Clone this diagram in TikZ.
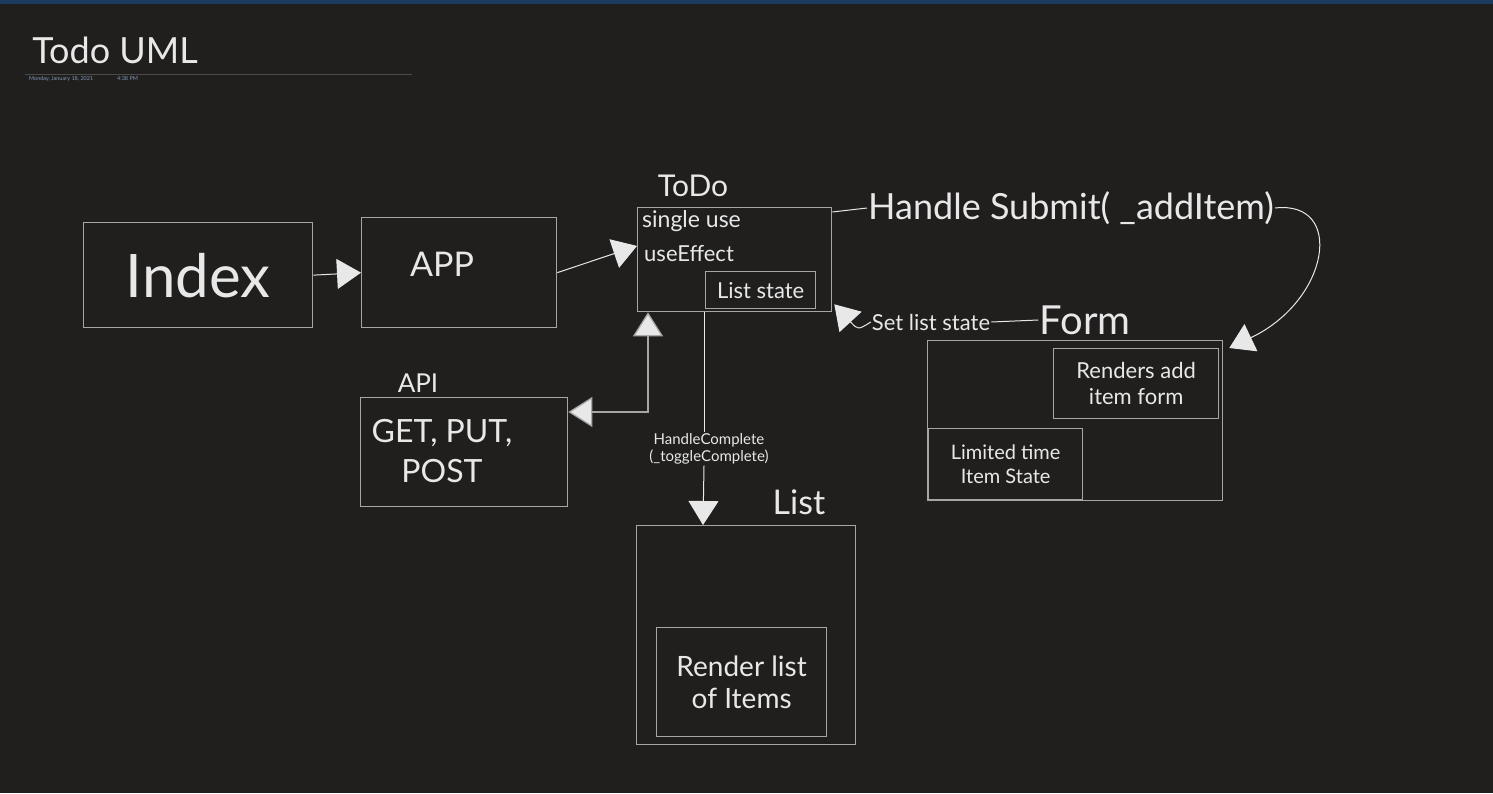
\documentclass[tikz,border=0pt]{standalone}
\usepackage{fontspec}
\setmainfont{Lato}
\usetikzlibrary{arrows.meta}
\definecolor{bg}{HTML}{201F1E}
\definecolor{bar}{HTML}{1B3C5E}
\definecolor{boxc}{HTML}{A6A6A6}
\definecolor{ink}{HTML}{E8E8E8}
\definecolor{datec}{HTML}{8298B8}
\begin{document}
\begin{tikzpicture}[x=1pt,y=-1pt]
%\draw[help lines] (0,0) grid (1493,793);
\tikzstyle{v}=[rectangle,draw=boxc,line width=1.3pt,anchor=north west,inner sep=0pt,text=ink]
\tikzstyle{t}=[text=ink,inner sep=1pt]
\tikzstyle{a}=[draw=ink,line width=1pt,-{Triangle[length=24pt,width=30pt]}]

\fill[bg] (0,0) rectangle (1493,793);
\useasboundingbox (0,0) rectangle (1493,793);
\fill[bar] (0,0) rectangle (1493,4);

\node[t,font=\fontsize{36}{40}\selectfont] (title) at (115,50) {Todo UML};
\draw[gray!45!bg,line width=0.6pt] (25,74) -- (412,74);
\node[anchor=west,text=datec,font=\fontsize{5.5}{6}\selectfont,inner sep=0pt] (day) at (29,79) {Monday, January 18, 2021};
\node[anchor=west,text=datec,font=\fontsize{5.5}{6}\selectfont,inner sep=0pt] (time) at (117,79) {4:38 PM};

\node[v,minimum width=229pt,minimum height=105pt,font=\fontsize{60}{64}\selectfont] (index) at (83,222) {Index};
\node[v,minimum width=195pt,minimum height=110pt] (app) at (361,217) {};
\node[t,font=\fontsize{34}{38}\selectfont] (applbl) at (442,264) {APP};

\node[v,minimum width=194pt,minimum height=104pt] (todo) at (637,207) {};
\node[t,font=\fontsize{30}{34}\selectfont] (todolbl) at (693,186) {ToDo};
\node[t,anchor=west,font=\fontsize{23}{26}\selectfont] (single) at (641,221) {single use};
\node[t,anchor=west,font=\fontsize{22}{26}\selectfont] (effect) at (643,254) {useEffect};
\node[v,minimum width=110pt,minimum height=37pt,font=\fontsize{22}{26}\selectfont] (lstate) at (705,271) {List state};

\node[v,minimum width=207pt,minimum height=109pt] (api) at (360,397) {};
\node[t,font=\fontsize{26}{30}\selectfont] (apilbl) at (418,383) {API};
\node[t,align=center,font=\fontsize{32}{40}\selectfont] (verbs) at (442,451) {GET, PUT,\\POST};

\node[v,minimum width=219pt,minimum height=219pt] (list) at (636,525) {};
\node[t,font=\fontsize{34}{38}\selectfont] (listlbl) at (799,502) {List};
\node[v,minimum width=170pt,minimum height=109pt,align=center,font=\fontsize{28}{32}\selectfont] (render) at (656,627) {Render list\\of Items};

\node[v,minimum width=295pt,minimum height=160pt] (form) at (927,340) {};
\node[t,font=\fontsize{40}{44}\selectfont] (formlbl) at (1085,320) {Form};
\node[v,minimum width=165pt,minimum height=70pt,align=center,font=\fontsize{22}{26}\selectfont] (renders) at (1053,348) {Renders add\\item form};
\node[v,minimum width=154pt,minimum height=71pt,align=center,font=\fontsize{20}{24}\selectfont] (limited) at (928,428) {Limited time\\Item State};

\node[t,font=\fontsize{36}{40}\selectfont] (submit) at (1071,208) {Handle Submit( \_addItem)};
\node[t,font=\fontsize{22}{26}\selectfont] (setls) at (931,322) {Set list state};
\node[t,align=center,font=\fontsize{15}{17}\selectfont] (hc) at (709,449) {HandleComplete\\(\_toggleComplete)};

\draw[a] (index.east) -- (app.west);
\draw[a] (app.east) -- (todo.172);
\draw[draw=ink,line width=1pt] ([yshift=-5pt]todo.north east) -- (submit.west);
\draw[a] (submit.east) .. controls (1345,200) and (1330,300) .. ([xshift=6pt,yshift=-8pt]form.north east);
\draw[a] (setls.west) .. controls (858,330) .. ([xshift=2pt,yshift=8pt]todo.south east);
\draw[draw=ink,line width=1pt] (setls.east) -- (formlbl.west);
\draw[draw=boxc,line width=1.3pt,{Triangle[length=24pt,width=30pt,fill=ink]}-{Triangle[length=24pt,width=30pt,fill=ink]}] ([xshift=11pt]todo.south west) |- ([yshift=-15pt]api.north east);
\draw[draw=ink,line width=1pt] ([xshift=67pt]todo.south west) -- ([xshift=67pt]todo.south west |- hc.north);
\draw[a] ([xshift=67pt]todo.south west |- hc.south) -- ([xshift=67pt]list.north west);
\end{tikzpicture}
\end{document}
